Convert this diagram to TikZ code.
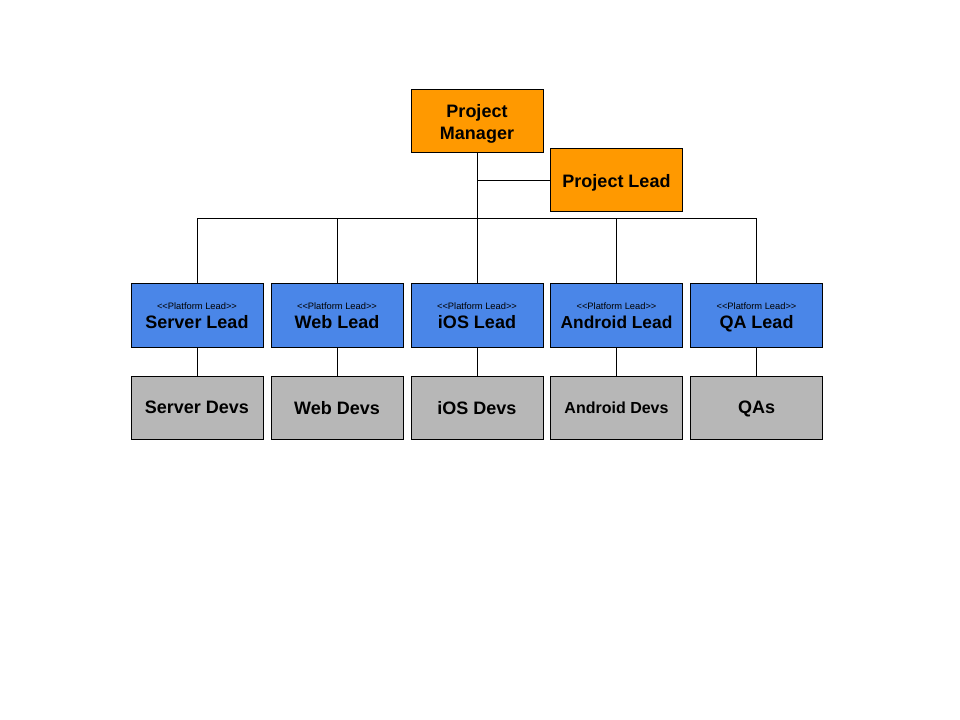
\documentclass[tikz,border=0pt]{standalone}
\usepackage{fontspec}
\setmainfont{Liberation Sans}
\definecolor{pmorange}{HTML}{FF9900}
\definecolor{leadblue}{HTML}{4A86E8}
\definecolor{devgray}{HTML}{B7B7B7}
\tikzset{
  box/.style={draw=black, line width=0.75pt, minimum width=99pt, minimum height=47.25pt,
    inner sep=0pt, align=center, text depth=-1pt, font=\fontsize{13.5}{16.5}\selectfont\bfseries},
  mgr/.style={box, fill=pmorange},
  lead/.style={box, fill=leadblue},
  devs/.style={box, fill=devgray},
  link/.style={line width=0.75pt}
}
\newcommand{\plat}{{\fontsize{7}{8}\selectfont\mdseries <{}<Platform Lead>{}>}\\[-2.5pt]}
\begin{document}
\begin{tikzpicture}[x=0.75pt, y=-0.75pt]
  \useasboundingbox (0,0) rectangle (960,720);
  \node[mgr] (pm) at (477,121.5) {Project\\Manager};
  \node[mgr] (pl) at (616.5,180.5) {Project Lead};
  \coordinate (bus) at (477,219);
  % platform leads
  \node[lead] (serverlead) at (197,315.5) {\plat Server Lead};
  \node[lead] (weblead) at (337,315.5) {\plat Web Lead};
  \node[lead] (ioslead) at (477,315.5) {\plat iOS Lead};
  \node[lead] (androidlead) at (616.5,315.5) {\plat {\fontsize{13}{15}\selectfont Android Lead}};
  \node[lead] (qalead) at (756.5,315.5) {\plat QA Lead};
  % devs
  \node[devs] (serverdevs) at (197,407.5) {Server Devs};
  \node[devs] (webdevs) at (337,407.5) {Web Devs};
  \node[devs] (iosdevs) at (477,407.5) {iOS Devs};
  \node[devs, font=\fontsize{12}{14}\selectfont\bfseries] (androiddevs) at (616.5,407.5) {Android Devs};
  \node[devs] (qas) at (756.5,407.5) {QAs};
  % connectors
  \draw[link] (pm.south) -- (ioslead.north);
  \draw[link] (pm.south |- pl.west) -- (pl.west);
  \draw[link] (serverlead.north) |- (qalead.north |- bus) -- (qalead.north);
  \draw[link] (weblead.north) -- (weblead.north |- bus);
  \draw[link] (androidlead.north) -- (androidlead.north |- bus);
  \draw[link] (serverlead) -- (serverdevs);
  \draw[link] (weblead) -- (webdevs);
  \draw[link] (ioslead) -- (iosdevs);
  \draw[link] (androidlead) -- (androiddevs);
  \draw[link] (qalead) -- (qas);
\end{tikzpicture}
\end{document}
